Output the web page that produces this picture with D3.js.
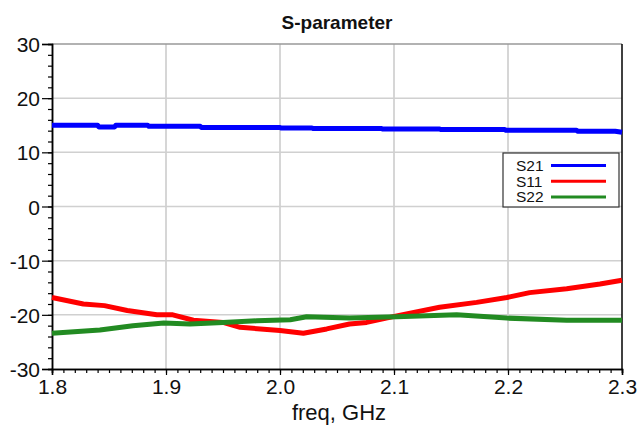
<!DOCTYPE html>
<html><head><meta charset="utf-8">
<script src="https://cdn.jsdelivr.net/npm/d3@7"></script>
<style>body{margin:0;background:#fff}svg{display:block;font-family:Arial,"Liberation Sans",sans-serif}</style>
</head><body><svg id="c" width="640" height="432"></svg>
<script>
const title = "S-parameter";
const xLabel = "freq, GHz";
const xTicks = [1.8, 1.9, 2.0, 2.1, 2.2, 2.3];
const yTicks = [-30, -20, -10, 0, 10, 20, 30];
const seriesNames = ["S21", "S11", "S22"];
const seriesColors = ["#0000ff", "#ff0000", "#228b22"];

const s21Freq = [1.800, 1.840, 1.841, 1.855, 1.856, 1.884, 1.885, 1.930, 1.931, 2.000, 2.001, 2.028, 2.029, 2.089, 2.090, 2.140, 2.141, 2.197, 2.198, 2.260, 2.261, 2.294, 2.300];
const s21Vals = [15.0, 15.0, 14.7, 14.7, 15.0, 15.0, 14.8, 14.8, 14.6, 14.6, 14.5, 14.5, 14.4, 14.4, 14.3, 14.3, 14.2, 14.2, 14.1, 14.1, 13.9, 13.9, 13.7];

const s11Freq = [1.800, 1.8275, 1.846, 1.866, 1.892, 1.906, 1.924, 1.950, 1.965, 2.000, 2.0205, 2.041, 2.061, 2.076, 2.1024, 2.140, 2.1725, 2.199, 2.219, 2.2515, 2.2807, 2.300];
const s11Vals = [-16.8, -18.0, -18.3, -19.2, -20.0, -20.0, -21.0, -21.4, -22.3, -22.9, -23.4, -22.6, -21.7, -21.4, -20.2, -18.6, -17.7, -16.8, -15.9, -15.2, -14.3, -13.6];

const s22Freq = [1.800, 1.842, 1.871, 1.898, 1.921, 1.950, 1.9795, 2.009, 2.0234, 2.061, 2.1024, 2.155, 2.199, 2.2515, 2.300];
const s22Vals = [-23.4, -22.8, -22.0, -21.5, -21.7, -21.4, -21.1, -20.9, -20.35, -20.6, -20.35, -20.0, -20.6, -21.0, -21.0];

const series = [
  {name: "S21", f: s21Freq, v: s21Vals},
  {name: "S11", f: s11Freq, v: s11Vals},
  {name: "S22", f: s22Freq, v: s22Vals}
];

const svg = d3.select("#c");
const L = 52, R = 622, T = 44, B = 369;
const x = d3.scaleLinear().domain([1.8, 2.3]).range([L, R]);
const y = d3.scaleLinear().domain([-30, 30]).range([B, T]);

// gridlines
const g = svg.append("g");
g.selectAll(".vg").data(xTicks.slice(1, -1)).join("line")
  .attr("x1", d => x(d)).attr("x2", d => x(d)).attr("y1", T).attr("y2", B)
  .attr("stroke", "#c8c8c8").attr("stroke-width", 1.5);
g.selectAll(".hg").data(yTicks.slice(1, -1)).join("line")
  .attr("y1", d => y(d)).attr("y2", d => y(d)).attr("x1", L).attr("x2", R)
  .attr("stroke", "#d0d0d0").attr("stroke-width", 1.5);

// frame top and right
svg.append("line").attr("x1", L).attr("x2", R).attr("y1", T).attr("y2", T).attr("stroke", "#999").attr("stroke-width", 1.5);
svg.append("line").attr("x1", R).attr("x2", R).attr("y1", T).attr("y2", B).attr("stroke", "#000").attr("stroke-width", 1.5);

// axes
const hyphen = f => d => f(d).replace("\u2212", "-");
const xAxis = d3.axisBottom(x).tickValues(xTicks).tickFormat(d3.format(".1f")).tickSize(6).tickPadding(4);
const xMinor = d3.axisBottom(x).tickValues(d3.range(0, 51).map(i => 1.8 + i * 0.01)).tickFormat("").tickSize(4);
const yAxis = d3.axisLeft(y).tickValues(yTicks).tickFormat(hyphen(d3.format("d"))).tickSize(10).tickPadding(2);
const yMinor = d3.axisLeft(y).tickValues(d3.range(0, 31).map(i => -30 + i * 2)).tickFormat("").tickSize(4);

const gxm = svg.append("g").attr("transform", `translate(0,${B})`).call(xMinor);
const gx = svg.append("g").attr("transform", `translate(0,${B})`).call(xAxis);
const gym = svg.append("g").attr("transform", `translate(${L},0)`).call(yMinor);
const gy = svg.append("g").attr("transform", `translate(${L},0)`).call(yAxis);
[gx, gy, gxm, gym].forEach(a => {
  a.selectAll("path").attr("stroke", "#000").attr("stroke-width", 1.5);
  a.selectAll("line").attr("stroke", "#000").attr("stroke-width", 1.2);
});
gx.selectAll("text").attr("font-size", 21).attr("fill", "#111");
gy.selectAll("text").attr("font-size", 21).attr("fill", "#111").attr("dy", "0.36em");

// lines
const lineGen = d3.line().x(d => x(d[0])).y(d => y(d[1]));
series.forEach((s, i) => {
  svg.append("path").datum(s.f.map((f, k) => [f, s.v[k]]))
    .attr("d", lineGen)
    .attr("fill", "none").attr("stroke", seriesColors[i]).attr("stroke-width", 5)
    .attr("stroke-linejoin", "round");
});

// title & x label
svg.append("text").attr("x", 337).attr("y", 29).attr("text-anchor", "middle")
  .attr("font-size", 19).attr("font-weight", "bold").attr("fill", "#111").text(title);
svg.append("text").attr("x", 339).attr("y", 420).attr("text-anchor", "middle")
  .attr("font-size", 22).attr("fill", "#111").text(xLabel);

// legend
const lg = svg.append("g");
lg.append("rect").attr("x", 503).attr("y", 153).attr("width", 116).attr("height", 54)
  .attr("fill", "#fff").attr("stroke", "#333").attr("stroke-width", 1.2);
seriesNames.forEach((n, i) => {
  const yy = 165.5 + i * 15.7;
  lg.append("text").attr("x", 516).attr("y", yy + 5.5).attr("font-size", 15.5).attr("fill", "#111").text(n);
  lg.append("line").attr("x1", 551).attr("x2", 606).attr("y1", yy).attr("y2", yy)
    .attr("stroke", seriesColors[i]).attr("stroke-width", 3);
});
</script></body></html>
